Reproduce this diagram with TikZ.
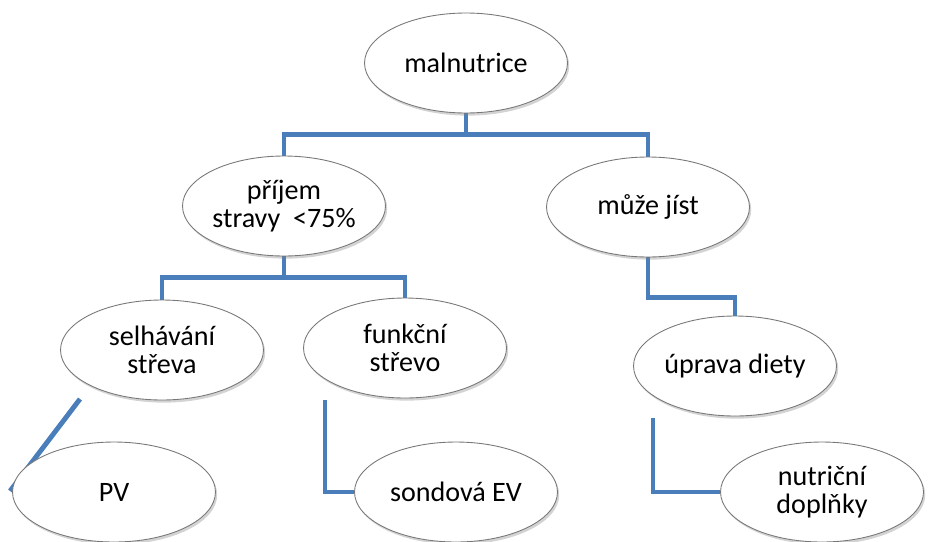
\documentclass[tikz,border=0pt]{standalone}
\usepackage{fontspec}
\setmainfont{Carlito}
\usepackage{tikz}
\usetikzlibrary{shapes.geometric,shadows}
\definecolor{steel}{RGB}{74,126,187}
\definecolor{rim}{RGB}{120,120,120}
\pgfdeclarelayer{bg}
\pgfsetlayers{bg,main}

\begin{document}
\begin{tikzpicture}[x=0.02cm,y=-0.02cm,every node/.style={font=\fontsize{16}{16}\selectfont}]
\tikzstyle{n}=[ellipse,draw=rim,line width=.5pt,fill=white,inner sep=0pt,minimum width=4.06cm,minimum height=2cm,align=center,drop shadow={shadow xshift=1pt,shadow yshift=-1.5pt,opacity=.35}]
\tikzstyle{l}=[draw=steel,line width=2.8pt]
\useasboundingbox (0,0) rectangle (935,541);
\node[n] (a) at (466,63) {malnutrice};
\node[n] (b) at (284,206) {příjem\\stravy\ \ <75\%};
\node[n] (c) at (648,207) {může jíst};
\node[n] (s) at (162,350) {selhávání\\střeva};
\node[n] (f) at (405,348) {funkční\\střevo};
\node[n] (u) at (735,366) {úprava diety};
\node[n] (pv) at (114,492) {PV};
\node[n] (sv) at (456,492) {sondová EV};
\node[n] (nd) at (822,492) {nutriční\\doplňky};
\begin{pgfonlayer}{bg}
\draw[l] (a.south) -- ++(0,21) -| (b.north);\draw[l] (a.south) -- ++(0,21) -| (c.north);
\draw[l] (b.south) -- ++(0,21) -| (s.north);\draw[l] (b.south) -- ++(0,21) -| (f.north);
\draw[l] (c.south) -- ++(0,40) -| (u.north);
\draw[l] ([shift={(-82,49)}]s.center) -- ([shift={(-2,-1)}]pv.west);
\draw[l] ([shift={(-80,52)}]f.center) |- (sv.west);
\draw[l] ([shift={(-82,52)}]u.center) |- (nd.west);
\end{pgfonlayer}
\end{tikzpicture}
\end{document}
